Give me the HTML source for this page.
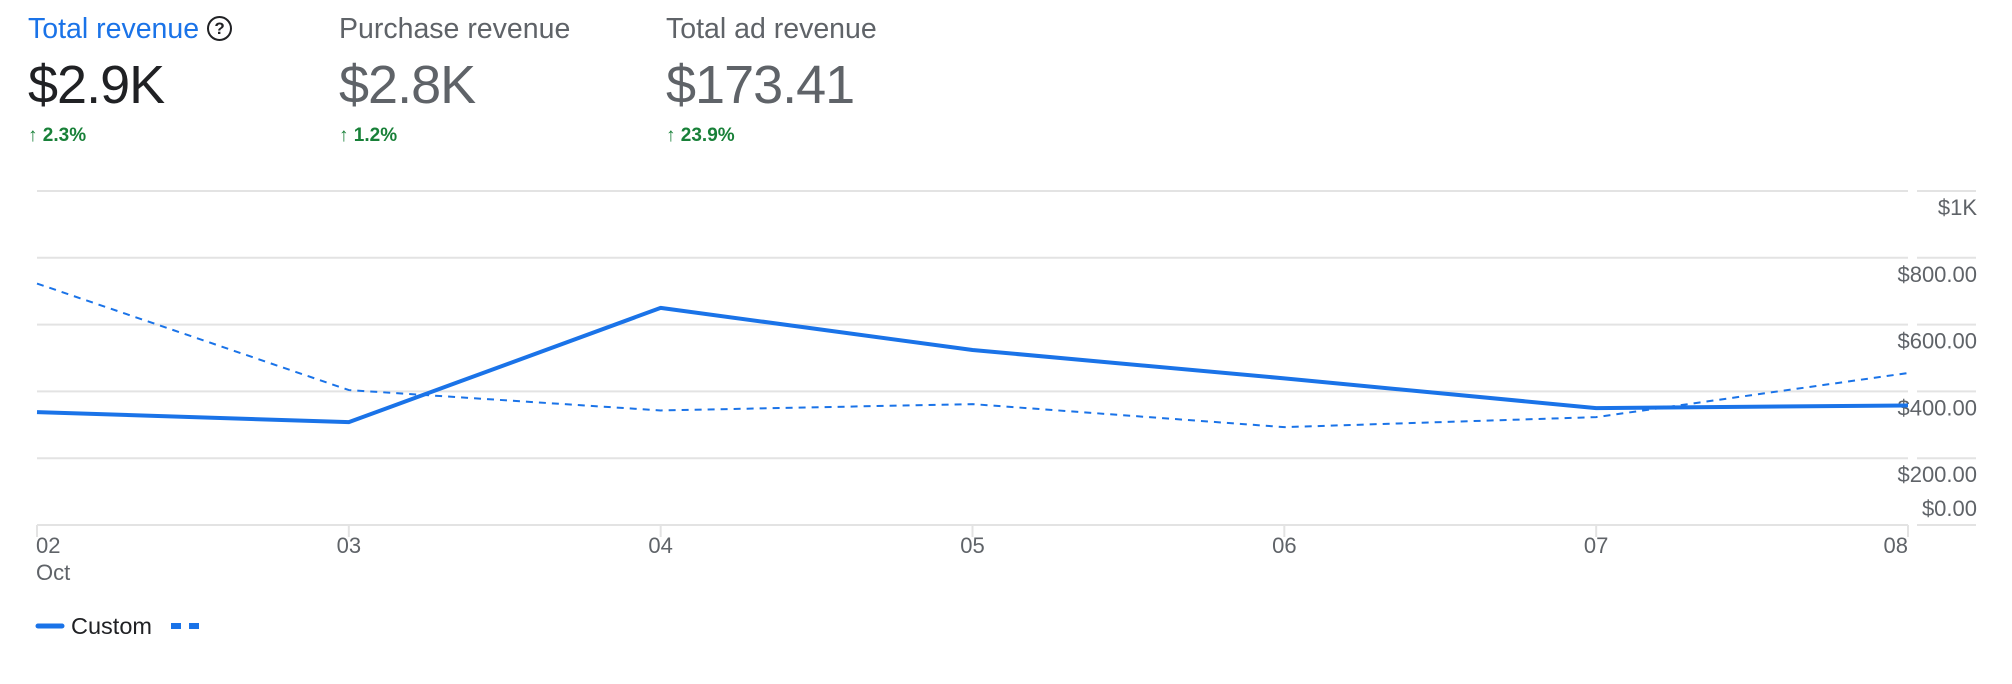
<!DOCTYPE html>
<html><head><meta charset="utf-8"><style>
body{margin:0;width:2012px;height:684px;background:#fff;font-family:"Liberation Sans",Arial,sans-serif;overflow:hidden;position:relative}
.kpi{position:absolute;top:11px}
.t{font-size:28.5px;color:#5f6368;line-height:37px;white-space:nowrap}
.v{font-size:54px;color:#5f6368;line-height:64px;margin-top:5px;letter-spacing:-1px}
.p{font-size:19px;color:#188038;font-weight:bold;margin-top:8px}
</style></head><body>
<div class="kpi" style="left:28px">
 <div class="t" style="color:#1a73e8">Total revenue <span style="display:inline-block;width:21px;height:21px;border:2.5px solid #202124;border-radius:50%;font-size:17px;line-height:21px;text-align:center;color:#202124;font-weight:bold;vertical-align:4px">?</span></div>
 <div class="v" style="color:#202124">$2.9K</div>
 <div class="p">↑ 2.3%</div>
</div>
<div class="kpi" style="left:339px">
 <div class="t">Purchase revenue</div>
 <div class="v">$2.8K</div>
 <div class="p">↑ 1.2%</div>
</div>
<div class="kpi" style="left:666px">
 <div class="t">Total ad revenue</div>
 <div class="v">$173.41</div>
 <div class="p">↑ 23.9%</div>
</div>
<svg id="chart" width="2012" height="684" style="position:absolute;left:0;top:0"></svg>
<script>
const categories=["02","03","04","05","06","07","08"];
const solidValues=[338,308,650,524,439,350,358];
const dashedValues=[723,404,343,362,293,323,455];
const yTicks=[0,200,400,600,800,1000];
const yTickLabels=["$0.00","$200.00","$400.00","$600.00","$800.00","$1K"];
const svg=document.getElementById('chart');
const NS='http://www.w3.org/2000/svg';
const x0=37,x1=1908,yBase=525,yTop=191;
const xs=i=>x0+i*(x1-x0)/(categories.length-1);
const ys=v=>yBase-v/1000*(yBase-yTop);
function mk(t,a,txt){const e=document.createElementNS(NS,t);for(const k in a)e.setAttribute(k,a[k]);if(txt!=null)e.textContent=txt;svg.appendChild(e);return e;}
yTicks.forEach((v,i)=>{
 const y=ys(v);
 let g=mk('line',{x1:x0,x2:x1,y1:y,y2:y,stroke:'#e3e3e3','stroke-width':2});
 
 
 let g2=mk('line',{x1:1917,x2:1976,y1:y,y2:y,stroke:'#e3e3e3','stroke-width':2});
 
 
 const ty=v===0?y-9:y+24;
 let t=mk('text',{x:1977,y:ty,'text-anchor':'end','font-size':22,fill:'#5f6368','font-family':'Liberation Sans, sans-serif'},yTickLabels[i]);
 
 
});
categories.forEach((c,i)=>{
 const x=xs(i);
 let tk=mk('line',{x1:x,x2:x,y1:yBase,y2:yBase+12,stroke:'#e3e3e3','stroke-width':2});
 
 
 const anchor=i===0?'start':(i===categories.length-1?'end':'middle');
 let t=mk('text',{x:i===0?x-1:x,y:553,'text-anchor':anchor,'font-size':22,fill:'#5f6368','font-family':'Liberation Sans, sans-serif'},c);
 
 
});
let oct=mk('text',{x:36,y:580,'font-size':22,fill:'#5f6368','font-family':'Liberation Sans, sans-serif'},'Oct');


let dl=mk('polyline',{points:dashedValues.map((v,i)=>xs(i)+','+ys(v)).join(' '),fill:'none',stroke:'#1a73e8','stroke-width':2,'stroke-dasharray':'7 6'});


let sl=mk('polyline',{points:solidValues.map((v,i)=>xs(i)+','+ys(v)).join(' '),fill:'none',stroke:'#1a73e8','stroke-width':4,'stroke-linejoin':'round'});


let l1=mk('line',{x1:38,x2:62,y1:626,y2:626,stroke:'#1a73e8','stroke-width':5,'stroke-linecap':'round'});


let lt=mk('text',{x:71,y:634,'font-size':23.5,fill:'#202124','font-family':'Liberation Sans, sans-serif'},'Custom');


let l2=mk('line',{x1:171,x2:203,y1:626,y2:626,stroke:'#1a73e8','stroke-width':6,'stroke-dasharray':'10 8'});


</script>
</body></html>
